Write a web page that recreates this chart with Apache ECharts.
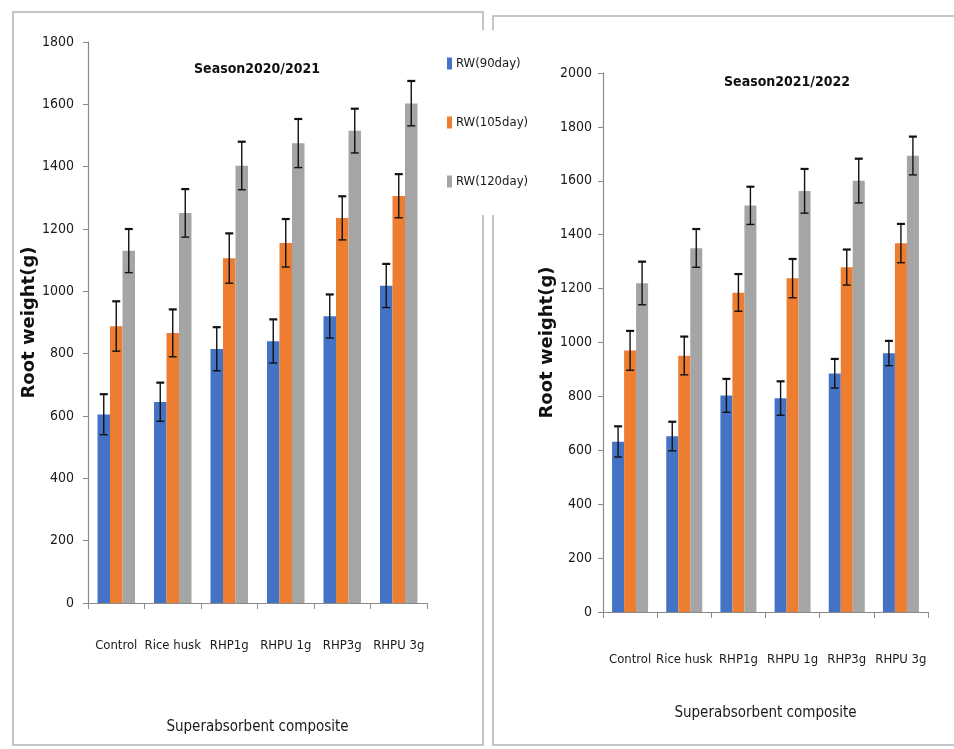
<!DOCTYPE html>
<html>
<head>
<meta charset="utf-8">
<title>Root weight by superabsorbent composite</title>
<script src="https://cdn.jsdelivr.net/npm/echarts@6/dist/echarts.min.js"></script>
<style>
  html, body { margin: 0; padding: 0; background: #fff; }
  #chart { width: 954px; height: 749px; }
</style>
</head>
<body>
<div id="chart"></div>
<script>
// Treatments on the x axis (same for both seasons)
const categories = ['Control', 'Rice husk', 'RHP1g', 'RHPU 1g', 'RHP3g', 'RHPU 3g'];
const seriesNames = ['RW(90day)', 'RW(105day)', 'RW(120day)'];
const seasonTitles = ['Season2020/2021', 'Season2021/2022'];

// Season 2020/2021 — root weight (g) and standard error
const rw90S1 = [605, 645, 815, 840, 920, 1018];
const err90S1 = [65, 62, 70, 70, 70, 70];
const rw105S1 = [888, 866, 1106, 1155, 1235, 1306];
const err105S1 = [80, 76, 80, 77, 70, 70];
const rw120S1 = [1130, 1251, 1403, 1475, 1515, 1603];
const err120S1 = [70, 77, 77, 78, 71, 72];

// Season 2021/2022 — root weight (g) and standard error
const rw90S2 = [632, 652, 803, 793, 885, 960];
const err90S2 = [57, 54, 62, 63, 54, 46];
const rw105S2 = [970, 951, 1185, 1238, 1279, 1368];
const err105S2 = [73, 71, 69, 72, 66, 72];
const rw120S2 = [1220, 1350, 1508, 1562, 1600, 1693];
const err120S2 = [80, 71, 70, 82, 82, 71];

// Value axis ranges
const yMaxS1 = 1800;
const yMaxS2 = 2000;
const yStep = 200;

const colors = ['#4472C4', '#ED7D31', '#A5A5A5'];
const NARROW = "'Liberation Sans Narrow', 'DejaVu Sans Condensed', 'Arial Narrow', sans-serif";
const HEAVY = "'DejaVu Sans', Verdana, sans-serif";
const BAR_W = [12.5, 12];

const chart = echarts.init(document.getElementById('chart'), null, { renderer: 'canvas' });

function barSeries(name, values, idx, k) {
  return {
    name: name,
    type: 'bar',
    xAxisIndex: idx,
    yAxisIndex: idx,
    barWidth: BAR_W[idx],
    barGap: '0%',
    itemStyle: { color: colors[k] },
    data: values
  };
}

// Symmetric error bars with caps, placed over the matching bar of each group
function errorSeries(values, errs, idx, k) {
  return {
    name: 'err-' + idx + '-' + k,
    type: 'custom',
    xAxisIndex: idx,
    yAxisIndex: idx,
    z: 10,
    silent: true,
    data: values.map((v, i) => [i, v, errs[i]]),
    renderItem: function (params, api) {
      const i = api.value(0), v = api.value(1), e = api.value(2);
      const hi = api.coord([i, v + e]);
      const lo = api.coord([i, v - e]);
      const x = hi[0] + (k - 1) * BAR_W[idx];
      const cap = 4;
      const style = { stroke: '#111', lineWidth: 1.4 };
      return {
        type: 'group',
        children: [
          { type: 'line', shape: { x1: x, y1: hi[1], x2: x, y2: lo[1] }, style: style },
          { type: 'line', shape: { x1: x - cap, y1: hi[1], x2: x + cap, y2: hi[1] }, style: { stroke: '#111', lineWidth: 2.2 } },
          { type: 'line', shape: { x1: x - cap, y1: lo[1], x2: x + cap, y2: lo[1] }, style: style }
        ]
      };
    }
  };
}

function xAxis(idx, labelMargin, nameGap) {
  return {
    type: 'category',
    gridIndex: idx,
    data: categories,
    name: 'Superabsorbent composite',
    nameLocation: 'middle',
    nameGap: nameGap,
    nameTextStyle: { fontFamily: NARROW, fontSize: 15, color: '#1a1a1a' },
    axisLine: { lineStyle: { color: '#8a8a8a', width: 1.2 } },
    axisTick: { show: true, length: 6, lineStyle: { color: '#8a8a8a' } },
    axisLabel: { fontFamily: NARROW, fontSize: 13, color: '#1a1a1a', margin: labelMargin,
                 interval: 0, overflow: 'none', hideOverlap: false }
  };
}

function yAxis(idx, max, nameGap, labelMargin) {
  return {
    type: 'value',
    gridIndex: idx,
    min: 0,
    max: max,
    interval: yStep,
    name: 'Root weight(g)',
    nameLocation: 'middle',
    nameGap: nameGap,
    nameTextStyle: { fontFamily: HEAVY, fontWeight: 'bold', fontSize: 18, color: '#111' },
    axisLine: { show: true, lineStyle: { color: '#8a8a8a', width: 1.2 } },
    axisTick: { show: true, length: 5, lineStyle: { color: '#8a8a8a' } },
    splitLine: { show: false },
    axisLabel: { fontFamily: NARROW, fontSize: 14, color: '#1a1a1a', margin: labelMargin,
                 formatter: function (v) { return String(v); } }
  };
}

const option = {
  backgroundColor: '#fff',
  animation: false,
  graphic: [
    { type: 'rect', z: 0, shape: { x: 13, y: 12, width: 470, height: 733 }, style: { fill: 'none', stroke: '#b4b4b4', lineWidth: 1.5 } },
    { type: 'rect', z: 0, shape: { x: 493, y: 16, width: 480, height: 729 }, style: { fill: 'none', stroke: '#b4b4b4', lineWidth: 1.5 } }
  ],
  title: [
    { text: seasonTitles[0], left: 252, top: 57, textAlign: 'center',
      textStyle: { fontFamily: NARROW, fontSize: 14, fontWeight: 'bold', color: '#111' } },
    { text: seasonTitles[1], left: 782, top: 70, textAlign: 'center',
      textStyle: { fontFamily: NARROW, fontSize: 14, fontWeight: 'bold', color: '#111' } }
  ],
  legend: {
    data: seriesNames,
    orient: 'vertical',
    left: 443,
    top: 30,
    padding: [27, 10, 27, 4],
    backgroundColor: '#fff',
    itemGap: 46,
    itemWidth: 5,
    itemHeight: 12,
    icon: 'rect',
    textStyle: { fontFamily: NARROW, fontSize: 13, color: '#1a1a1a', padding: [0, 0, 0, -1] }
  },
  grid: [
    { left: 88, top: 42, width: 339, height: 561 },
    { left: 603, top: 73, width: 325, height: 539 }
  ],
  xAxis: [xAxis(0, 36, 117), xAxis(1, 41, 94)],
  yAxis: [yAxis(0, yMaxS1, 42, 14), yAxis(1, yMaxS2, 38, 11)],
  series: [
    barSeries(seriesNames[0], rw90S1, 0, 0),
    barSeries(seriesNames[1], rw105S1, 0, 1),
    barSeries(seriesNames[2], rw120S1, 0, 2),
    barSeries(seriesNames[0], rw90S2, 1, 0),
    barSeries(seriesNames[1], rw105S2, 1, 1),
    barSeries(seriesNames[2], rw120S2, 1, 2),
    errorSeries(rw90S1, err90S1, 0, 0),
    errorSeries(rw105S1, err105S1, 0, 1),
    errorSeries(rw120S1, err120S1, 0, 2),
    errorSeries(rw90S2, err90S2, 1, 0),
    errorSeries(rw105S2, err105S2, 1, 1),
    errorSeries(rw120S2, err120S2, 1, 2)
  ]
};

chart.setOption(option);
</script>
</body>
</html>
